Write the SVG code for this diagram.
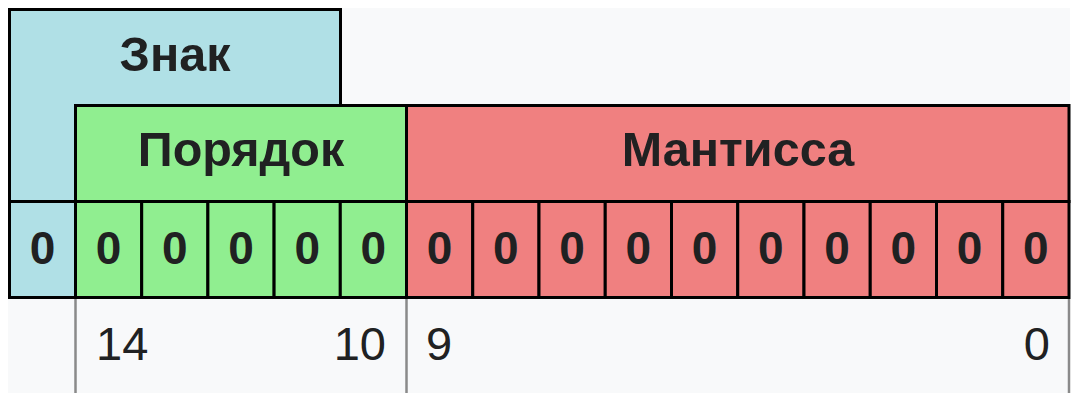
<svg xmlns="http://www.w3.org/2000/svg" width="1074" height="402" viewBox="0 0 1074 402">
<style>
.b{stroke:#000;stroke-width:3}
.s{fill:#b0e0e6}
.e{fill:#90ee90}
.m{fill:#f08080}
.h{font-family:"Liberation Sans",Arial,sans-serif;font-weight:bold;font-size:48.5px;fill:#202122;text-anchor:middle}
.d{font-family:"Liberation Sans",Arial,sans-serif;font-weight:bold;font-size:46px;fill:#202122;text-anchor:middle}
.n{font-family:"Liberation Sans",Arial,sans-serif;font-size:47px;fill:#202122}
.g{stroke:#8a8a8a;stroke-width:2.5}
</style>
<rect x="8" y="8" width="1062" height="385" fill="#f8f9fa"/>
<g id="sign">
<polygon class="s b" points="9.5,9.5 340.5,9.5 340.5,105.5 75.5,105.5 75.5,201.5 9.5,201.5"/>
<text class="h" x="175" y="71">Знак</text>
</g>
<g id="exponent">
<rect class="e b" x="75.5" y="105.5" width="331" height="96"/>
<text class="h" x="241" y="166">Порядок</text>
</g>
<g id="mantissa">
<rect class="m b" x="406.5" y="105.5" width="662.5" height="96"/>
<text class="h" x="738" y="166">Мантисса</text>
</g>
<g id="bits">
<rect class="s b" x="9.5" y="201.5" width="66" height="96"/>
<rect class="e b" x="75.5" y="201.5" width="66.2" height="96"/>
<rect class="e b" x="141.7" y="201.5" width="66.2" height="96"/>
<rect class="e b" x="207.9" y="201.5" width="66.2" height="96"/>
<rect class="e b" x="274.1" y="201.5" width="66.2" height="96"/>
<rect class="e b" x="340.3" y="201.5" width="66.2" height="96"/>
<rect class="m b" x="406.5" y="201.5" width="66.25" height="96"/>
<rect class="m b" x="472.75" y="201.5" width="66.25" height="96"/>
<rect class="m b" x="539" y="201.5" width="66.25" height="96"/>
<rect class="m b" x="605.25" y="201.5" width="66.25" height="96"/>
<rect class="m b" x="671.5" y="201.5" width="66.25" height="96"/>
<rect class="m b" x="737.75" y="201.5" width="66.25" height="96"/>
<rect class="m b" x="804" y="201.5" width="66.25" height="96"/>
<rect class="m b" x="870.25" y="201.5" width="66.25" height="96"/>
<rect class="m b" x="936.5" y="201.5" width="66.25" height="96"/>
<rect class="m b" x="1002.75" y="201.5" width="66.25" height="96"/>
<text class="d" x="42.5" y="264">0</text>
<text class="d" x="108.6" y="264">0</text>
<text class="d" x="174.8" y="264">0</text>
<text class="d" x="241" y="264">0</text>
<text class="d" x="307.2" y="264">0</text>
<text class="d" x="373.4" y="264">0</text>
<text class="d" x="439.6" y="264">0</text>
<text class="d" x="505.9" y="264">0</text>
<text class="d" x="572.1" y="264">0</text>
<text class="d" x="638.4" y="264">0</text>
<text class="d" x="704.6" y="264">0</text>
<text class="d" x="770.9" y="264">0</text>
<text class="d" x="837.1" y="264">0</text>
<text class="d" x="903.4" y="264">0</text>
<text class="d" x="969.6" y="264">0</text>
<text class="d" x="1035.9" y="264">0</text>
</g>
<g id="connectors">
<line class="g" x1="75.5" y1="299" x2="75.5" y2="393"/>
<line class="g" x1="406.5" y1="299" x2="406.5" y2="393"/>
<line class="g" x1="1069" y1="299" x2="1069" y2="393"/>
</g>
<g id="labels">
<text class="n" x="96" y="360">14</text>
<text class="n" x="386" y="360" text-anchor="end">10</text>
<text class="n" x="426" y="360">9</text>
<text class="n" x="1050" y="360" text-anchor="end">0</text>
</g>
</svg>
